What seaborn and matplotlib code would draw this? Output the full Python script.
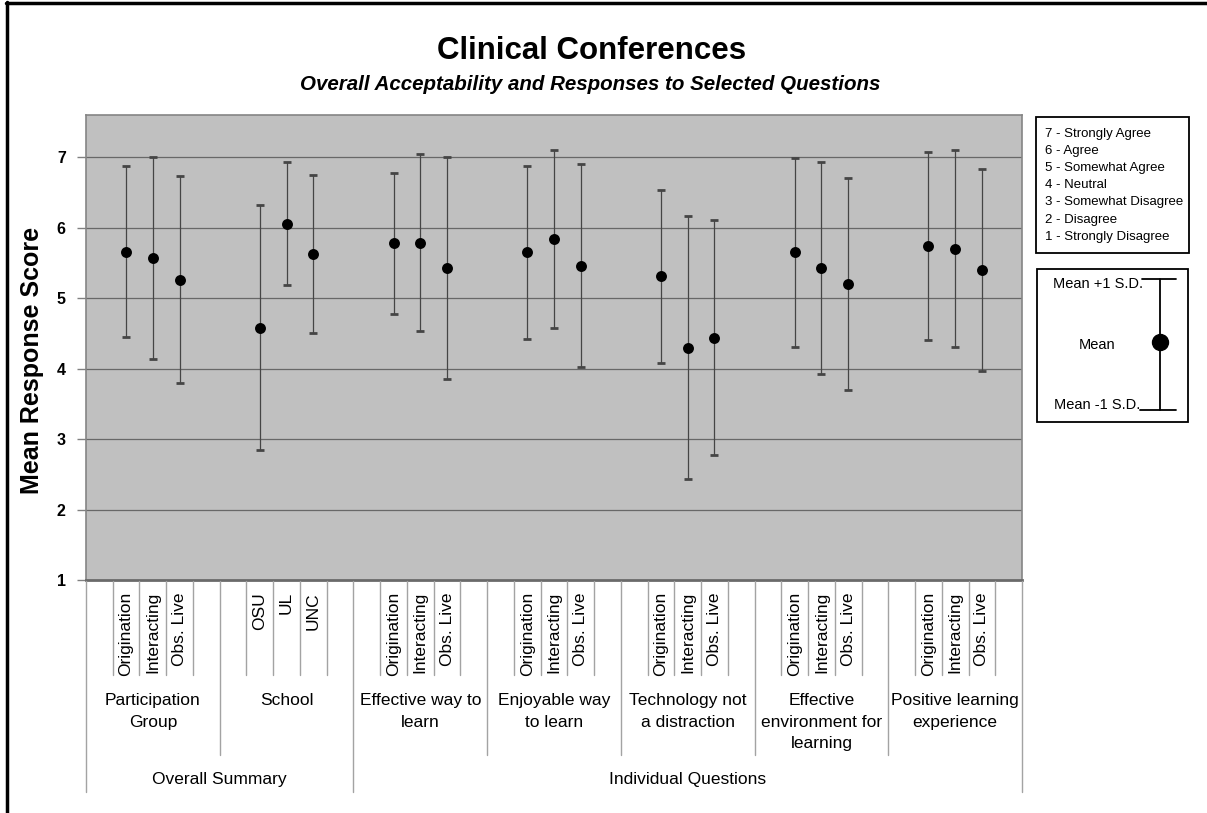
import numpy as np
import pandas as pd
import matplotlib
matplotlib.use("Agg")
import matplotlib.pyplot as plt
import seaborn as sns
from matplotlib.transforms import blended_transform_factory
from matplotlib.lines import Line2D
from matplotlib.patches import Rectangle

# ---- data -------------------------------------------------------------
section_labels = ["Overall Summary", "Individual Questions"]
section_group_counts = [2, 5]

group_labels = [
    "Participation\nGroup",
    "School",
    "Effective way to\nlearn",
    "Enjoyable way\nto learn",
    "Technology not\na distraction",
    "Effective\nenvironment for\nlearning",
    "Positive learning\nexperience",
]

role_labels = ["Origination", "Interacting", "Obs. Live"]
school_labels = ["OSU", "UL", "UNC"]
item_labels = [role_labels, school_labels, role_labels, role_labels,
               role_labels, role_labels, role_labels]

mean_scores = [
    [5.66, 5.57, 5.26],
    [4.58, 6.06, 5.63],
    [5.78, 5.79, 5.43],
    [5.65, 5.84, 5.46],
    [5.31, 4.30, 4.44],
    [5.65, 5.43, 5.20],
    [5.74, 5.70, 5.40],
]
sd_scores = [
    [1.21, 1.43, 1.47],
    [1.74, 0.87, 1.12],
    [1.00, 1.25, 1.57],
    [1.23, 1.26, 1.44],
    [1.23, 1.86, 1.67],
    [1.34, 1.51, 1.50],
    [1.33, 1.40, 1.44],
]

scale_labels = ["7 - Strongly Agree", "6 - Agree", "5 - Somewhat Agree",
                "4 - Neutral", "3 - Somewhat Disagree", "2 - Disagree",
                "1 - Strongly Disagree"]

# each group occupies five slots: blank, three items, blank
SLOTS = 5
rows = []
for g, (labels, ms, ss) in enumerate(zip(item_labels, mean_scores, sd_scores)):
    for i, (lab, m, s) in enumerate(zip(labels, ms, ss)):
        rows.append({"group": g, "item": lab, "pos": g * SLOTS + 1 + i,
                     "mean": m, "sd": s})
df = pd.DataFrame(rows)
n_slots = SLOTS * len(group_labels)

# ---- figure -----------------------------------------------------------
sns.set_style("white")
plt.rcParams["font.family"] = ["Liberation Sans", "DejaVu Sans"]
plt.rcParams["text.color"] = "black"
plt.rcParams["axes.labelcolor"] = "black"
plt.rcParams["xtick.color"] = "black"
plt.rcParams["ytick.color"] = "black"

W, H = 1207, 813
fig = plt.figure(figsize=(W / 100, H / 100), dpi=100)


def fx(px):
    return px / W


def fy(py):
    return 1 - py / H


ax = fig.add_axes([fx(86), fy(580), fx(1022) - fx(86), fy(115) - fy(580)])
ax.set_facecolor("#c0c0c0")
ax.set_xlim(-0.5, n_slots - 0.5)
ax.set_ylim(1, 7.6)

for v in range(2, 8):
    ax.axhline(v, color="#686868", lw=0.9, zorder=1)

eb = ax.errorbar(df["pos"], df["mean"], yerr=df["sd"], fmt="none",
                 ecolor="#454545", elinewidth=0.9, capsize=2.6, capthick=2.0,
                 zorder=2)
for cap in eb[1]:
    cap.set_color("black")

sns.scatterplot(data=df, x="pos", y="mean", color="black", s=62,
                linewidth=0, zorder=3, ax=ax, legend=False)

ax.set_xlabel("")
ax.set_ylabel("Mean Response Score", fontsize=18, fontweight="bold",
              color="black")
ax.yaxis.set_label_coords(-0.045, 0.473)

ax.set_xticks(np.arange(-0.5, n_slots, 1.0))
ax.set_xticklabels([])
ax.tick_params(axis="x", length=4, width=1, color="#707070", direction="out")
ax.set_yticks(range(1, 8))
ax.set_yticklabels([str(v) for v in range(1, 8)], fontsize=11.5,
                   fontweight="bold", color="black")
ax.tick_params(axis="y", length=6.5, width=1, color="#808080", pad=8,
               direction="out", left=True, labelcolor="black")

for side in ["left", "top", "right"]:
    ax.spines[side].set_color("#858585")
    ax.spines[side].set_linewidth(1.2)
ax.spines["bottom"].set_color("#6a6a6a")
ax.spines["bottom"].set_linewidth(2.0)

# ---- multi-level category axis -----------------------------------------
trans = blended_transform_factory(ax.transData, fig.transFigure)
section_edges = {0}
acc = 0
for c in section_group_counts:
    acc += c * SLOTS
    section_edges.add(acc)

for k in range(n_slots + 1):
    b = k - 0.5
    if k in section_edges:
        end = 792
    elif k % SLOTS == 0:
        end = 755
    else:
        end = 675
    fig.add_artist(Line2D([b, b], [fy(581), fy(end)], transform=trans,
                          color="#a3a3a3", lw=1.0))

for _, r in df.iterrows():
    ax.text(r["pos"], fy(592), r["item"], transform=trans, rotation=90,
            ha="center", va="top", fontsize=12.5, clip_on=False,
            color="black")

for g, lab in enumerate(group_labels):
    ax.text(g * SLOTS + (SLOTS - 1) / 2, fy(693), lab, transform=trans,
            ha="center", va="top", multialignment="center", fontsize=12.5,
            linespacing=1.55, clip_on=False, color="black")

start = 0
for lab, c in zip(section_labels, section_group_counts):
    end = start + c * SLOTS
    ax.text((start + end - 1) / 2, fy(779), lab, transform=trans,
            ha="center", va="center", fontsize=12.5, clip_on=False,
            color="black")
    start = end

# ---- titles -----------------------------------------------------------
fig.text(fx(592), fy(51), "Clinical Conferences", ha="center", va="center",
         fontsize=22.5, fontweight="bold", color="black")
fig.text(fx(590), fy(84),
         "Overall Acceptability and Responses to Selected Questions",
         ha="center", va="center", fontsize=14.8, fontweight="bold",
         style="italic", color="black")

# ---- response scale key -----------------------------------------------
fig.add_artist(Rectangle((fx(1036), fy(253)), fx(1189) - fx(1036),
                         fy(117) - fy(253), transform=fig.transFigure,
                         fill=False, ec="black", lw=1.3))
for j, lab in enumerate(scale_labels):
    fig.text(fx(1045), fy(133.5 + j * 17.2), lab, ha="left", va="center",
             fontsize=9.5, color="black")

# ---- mean / S.D. key ----------------------------------------------------
fig.add_artist(Rectangle((fx(1037), fy(422)), fx(1188) - fx(1037),
                         fy(269) - fy(422), transform=fig.transFigure,
                         fill=False, ec="black", lw=1.3))
fig.add_artist(Line2D([fx(1160), fx(1160)], [fy(279), fy(410)],
                      transform=fig.transFigure, color="black", lw=1.3))
fig.add_artist(Line2D([fx(1142), fx(1176)], [fy(279), fy(279)],
                      transform=fig.transFigure, color="black", lw=1.3))
fig.add_artist(Line2D([fx(1140), fx(1176)], [fy(410), fy(410)],
                      transform=fig.transFigure, color="black", lw=1.3))
fig.add_artist(Line2D([fx(1160)], [fy(342)], transform=fig.transFigure,
                      marker="o", markersize=11.5, color="black", lw=0))
fig.text(fx(1053), fy(284), "Mean +1 S.D.", ha="left", va="center",
         fontsize=10.5, color="black")
fig.text(fx(1097), fy(345), "Mean", ha="center", va="center",
         fontsize=10.5, color="black")
fig.text(fx(1054), fy(405), "Mean -1 S.D.", ha="left", va="center",
         fontsize=10.5, color="black")

# ---- page frame ---------------------------------------------------------
fig.add_artist(Line2D([fx(7), fx(7)], [fy(2), fy(813)],
                      transform=fig.transFigure, color="black", lw=2.5))
fig.add_artist(Line2D([fx(6), fx(1207)], [fy(3), fy(3)],
                      transform=fig.transFigure, color="black", lw=2.5))

fig.savefig("out.png", dpi=100)
